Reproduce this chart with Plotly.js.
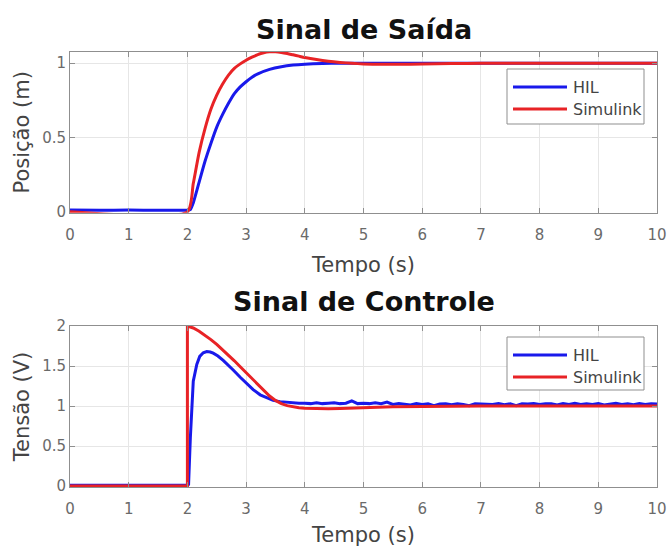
<!DOCTYPE html>
<html>
<head>
<meta charset="utf-8">
<script src="https://cdn.plot.ly/plotly-3.0.1.min.js"></script>
<style>
html,body{margin:0;padding:0;background:#fff;}
#chart{width:668px;height:547px;}
</style>
</head>
<body>
<div id="chart"></div>
<script>
// ---------- data ----------
const seriesNames = ["HIL", "Simulink"];
const titles = ["Sinal de Saída", "Sinal de Controle"];
const xTitle = "Tempo (s)";
const yTitles = ["Posição (m)", "Tensão (V)"];

// Output (position) - Simulink
const tSimPos = [0, 2.0, 2.1, 2.2, 2.3, 2.4, 2.5, 2.6, 2.7, 2.8, 2.9, 3.0, 3.1, 3.2, 3.3, 3.4, 3.5, 3.6, 3.7, 3.8, 3.9, 4.0, 4.2, 4.4, 4.6, 4.8, 5.0, 5.3, 5.6, 6.0, 6.5, 7.0, 8.0, 10.0];
const posSim  = [0, 0, 0.19, 0.40, 0.56, 0.69, 0.785, 0.86, 0.92, 0.965, 0.995, 1.02, 1.04, 1.058, 1.07, 1.076, 1.076, 1.072, 1.065, 1.056, 1.047, 1.038, 1.024, 1.013, 1.005, 0.999, 0.995, 0.992, 0.992, 0.994, 0.997, 0.999, 1.0, 1.0];

// Output (position) - HIL
const tHilPos = [0, 0.5, 1.0, 1.5, 2.0, 2.05, 2.1, 2.2, 2.3, 2.4, 2.5, 2.6, 2.7, 2.8, 2.9, 3.0, 3.1, 3.2, 3.4, 3.6, 3.8, 4.0, 4.3, 4.6, 5.0, 6.0, 7.0, 8.0, 9.0, 10.0];
const posHil  = [0.012, 0.010, 0.012, 0.010, 0.011, 0.015, 0.06, 0.20, 0.34, 0.46, 0.57, 0.655, 0.73, 0.795, 0.84, 0.875, 0.905, 0.928, 0.958, 0.976, 0.987, 0.993, 0.998, 1.0, 1.0, 1.0, 1.0, 1.0, 1.0, 1.0];

// Control - Simulink
const tSimCtl = [0, 2.0, 2.0, 2.1, 2.2, 2.3, 2.4, 2.5, 2.6, 2.7, 2.8, 2.9, 3.0, 3.1, 3.2, 3.3, 3.4, 3.5, 3.6, 3.7, 3.8, 3.9, 4.0, 4.2, 4.4, 4.6, 4.8, 5.0, 5.5, 6.0, 7.0, 10.0];
const ctlSim  = [0, 0, 2.0, 1.975, 1.935, 1.885, 1.83, 1.77, 1.705, 1.635, 1.565, 1.49, 1.415, 1.34, 1.265, 1.19, 1.125, 1.07, 1.03, 1.005, 0.99, 0.978, 0.972, 0.966, 0.966, 0.97, 0.975, 0.98, 0.99, 0.995, 1.0, 1.0];

// Control - HIL
const tHilCtl = [0, 0.5, 1.0, 1.5, 2.0, 2.02, 2.05, 2.1, 2.16, 2.21, 2.27, 2.33, 2.39, 2.44, 2.52, 2.61, 2.7, 2.78, 2.9, 3.01, 3.12, 3.24, 3.35, 3.46, 3.58, 3.69, 3.8, 3.9,
  4.0, 4.1, 4.2, 4.3, 4.4, 4.5, 4.6, 4.7, 4.8, 4.9,
  5.0, 5.1, 5.2, 5.3, 5.4, 5.5, 5.6, 5.7, 5.8, 5.9,
  6.0, 6.1, 6.2, 6.3, 6.4, 6.5, 6.6, 6.7, 6.8, 6.9,
  7.0, 7.1, 7.2, 7.3, 7.4, 7.5, 7.6, 7.7, 7.8, 7.9,
  8.0, 8.1, 8.2, 8.3, 8.4, 8.5, 8.6, 8.7, 8.8, 8.9,
  9.0, 9.1, 9.2, 9.3, 9.4, 9.5, 9.6, 9.7, 9.8, 9.9, 10.0];
const ctlHil  = [0.01, 0.012, 0.01, 0.012, 0.01, 0.02, 0.60, 1.31, 1.52, 1.62, 1.665, 1.68, 1.675, 1.66, 1.625, 1.57, 1.51, 1.45, 1.36, 1.28, 1.205, 1.14, 1.10, 1.07, 1.055, 1.045, 1.04, 1.035,
  1.035, 1.03, 1.04, 1.03, 1.035, 1.04, 1.03, 1.035, 1.065, 1.03,
  1.035, 1.03, 1.04, 1.03, 1.05, 1.02, 1.03, 1.025, 1.012, 1.03,
  1.02, 1.028, 1.005, 1.025, 1.028, 1.015, 1.028, 1.02, 1.005, 1.028,
  1.025, 1.028, 1.02, 1.032, 1.015, 1.028, 1.005, 1.028, 1.025, 1.032,
  1.02, 1.028, 1.028, 1.012, 1.032, 1.02, 1.035, 1.02, 1.028, 1.02,
  1.032, 1.012, 1.028, 1.035, 1.02, 1.028, 1.015, 1.032, 1.02, 1.028, 1.025];

const xTicks = [0, 1, 2, 3, 4, 5, 6, 7, 8, 9, 10];
const yTicksPos = [0, 0.5, 1];
const yTicksCtl = [0, 0.5, 1, 1.5, 2];

// ---------- style ----------
const BLUE = "rgb(25,25,235)";
const RED = "rgb(232,35,38)";
const FONT = "DejaVu Sans, Liberation Sans, Arial, sans-serif";

// plot area in pixels
const L = 70, R = 657, T = 52, B = 487;
const W = 668, H = 547;
const px2x = p => (p - L) / (R - L);
const py2y = p => (B - p) / (B - T);

const traces = [
  {x: tHilPos, y: posHil, xaxis: "x", yaxis: "y", mode: "lines", name: seriesNames[0],
   line: {color: BLUE, width: 3, shape: "spline", smoothing: 0.6}},
  {x: tSimPos, y: posSim, xaxis: "x", yaxis: "y", mode: "lines", name: seriesNames[1],
   line: {color: RED, width: 3, shape: "spline", smoothing: 0.6}},
  {x: tHilCtl, y: ctlHil, xaxis: "x2", yaxis: "y2", mode: "lines", name: seriesNames[0],
   line: {color: BLUE, width: 3}},
  {x: tSimCtl, y: ctlSim, xaxis: "x2", yaxis: "y2", mode: "lines", name: seriesNames[1],
   line: {color: RED, width: 3}}
];

const axisCommon = {
  showline: true, linecolor: "#8f8f8f", linewidth: 1, mirror: "ticks",
  ticks: "inside", ticklen: 5, tickcolor: "#8f8f8f",
  showgrid: true, gridcolor: "#e6e6e6", gridwidth: 1, zeroline: false,
  tickfont: {family: FONT, size: 15, color: "#6a6a6a"}, fixedrange: true
};

const xCommon = Object.assign({}, axisCommon, {
  range: [0, 10], tickvals: xTicks, ticktext: xTicks.map(String),
  ticklabelstandoff: 8,
  title: {text: xTitle, font: {family: FONT, size: 21, color: "#444"}, standoff: 14}
});

function legendShapes(boxTop, boxBottom, y1, y2) {
  const s = [];
  s.push({type: "rect", xref: "paper", yref: "paper",
          x0: px2x(507), x1: px2x(644), y0: py2y(boxBottom), y1: py2y(boxTop),
          line: {color: "#8f8f8f", width: 1}, fillcolor: "white"});
  s.push({type: "line", xref: "paper", yref: "paper", x0: px2x(513), x1: px2x(567),
          y0: py2y(y1), y1: py2y(y1), line: {color: BLUE, width: 3}});
  s.push({type: "line", xref: "paper", yref: "paper", x0: px2x(513), x1: px2x(567),
          y0: py2y(y2), y1: py2y(y2), line: {color: RED, width: 3}});
  return s;
}
function legendTexts(y1, y2) {
  return [
    {text: seriesNames[0], xref: "paper", yref: "paper", x: px2x(571), y: py2y(y1),
     xanchor: "left", yanchor: "middle", showarrow: false,
     font: {family: FONT, size: 16, color: "#444"}},
    {text: seriesNames[1], xref: "paper", yref: "paper", x: px2x(571), y: py2y(y2),
     xanchor: "left", yanchor: "middle", showarrow: false,
     font: {family: FONT, size: 16, color: "#444"}}
  ];
}

const layout = {
  width: W, height: H,
  margin: {l: L, r: W - R, t: T, b: H - B, pad: 0},
  paper_bgcolor: "white", plot_bgcolor: "white",
  showlegend: false,
  xaxis: Object.assign({}, xCommon, {anchor: "y", domain: [0, 1]}),
  xaxis2: Object.assign({}, xCommon, {anchor: "y2", domain: [0, 1]}),
  yaxis: Object.assign({}, axisCommon, {
    anchor: "x", domain: [py2y(212.7), 1], range: [-0.006, 1.075],
    tickvals: yTicksPos, ticktext: yTicksPos.map(String),
    title: {text: yTitles[0], font: {family: FONT, size: 21, color: "#444"}, standoff: 6}
  }),
  yaxis2: Object.assign({}, axisCommon, {
    anchor: "x2", domain: [0, py2y(326)], range: [-0.012, 2.0],
    tickvals: yTicksCtl, ticktext: yTicksCtl.map(String),
    title: {text: yTitles[1], font: {family: FONT, size: 21, color: "#444"}, standoff: 6}
  }),
  shapes: legendShapes(69, 124, 87, 109).concat(legendShapes(337, 390, 355, 377)),
  annotations: [
    {text: "<b>" + titles[0] + "</b>", xref: "paper", yref: "paper", x: 0.5, y: py2y(30),
     xanchor: "center", yanchor: "middle", showarrow: false,
     font: {family: FONT, size: 27, color: "#111"}},
    {text: "<b>" + titles[1] + "</b>", xref: "paper", yref: "paper", x: 0.5, y: py2y(301),
     xanchor: "center", yanchor: "middle", showarrow: false,
     font: {family: FONT, size: 27, color: "#111"}}
  ].concat(legendTexts(87, 109)).concat(legendTexts(355, 377))
};

Plotly.newPlot("chart", traces, layout, {staticPlot: true, displayModeBar: false});
</script>
</body>
</html>
